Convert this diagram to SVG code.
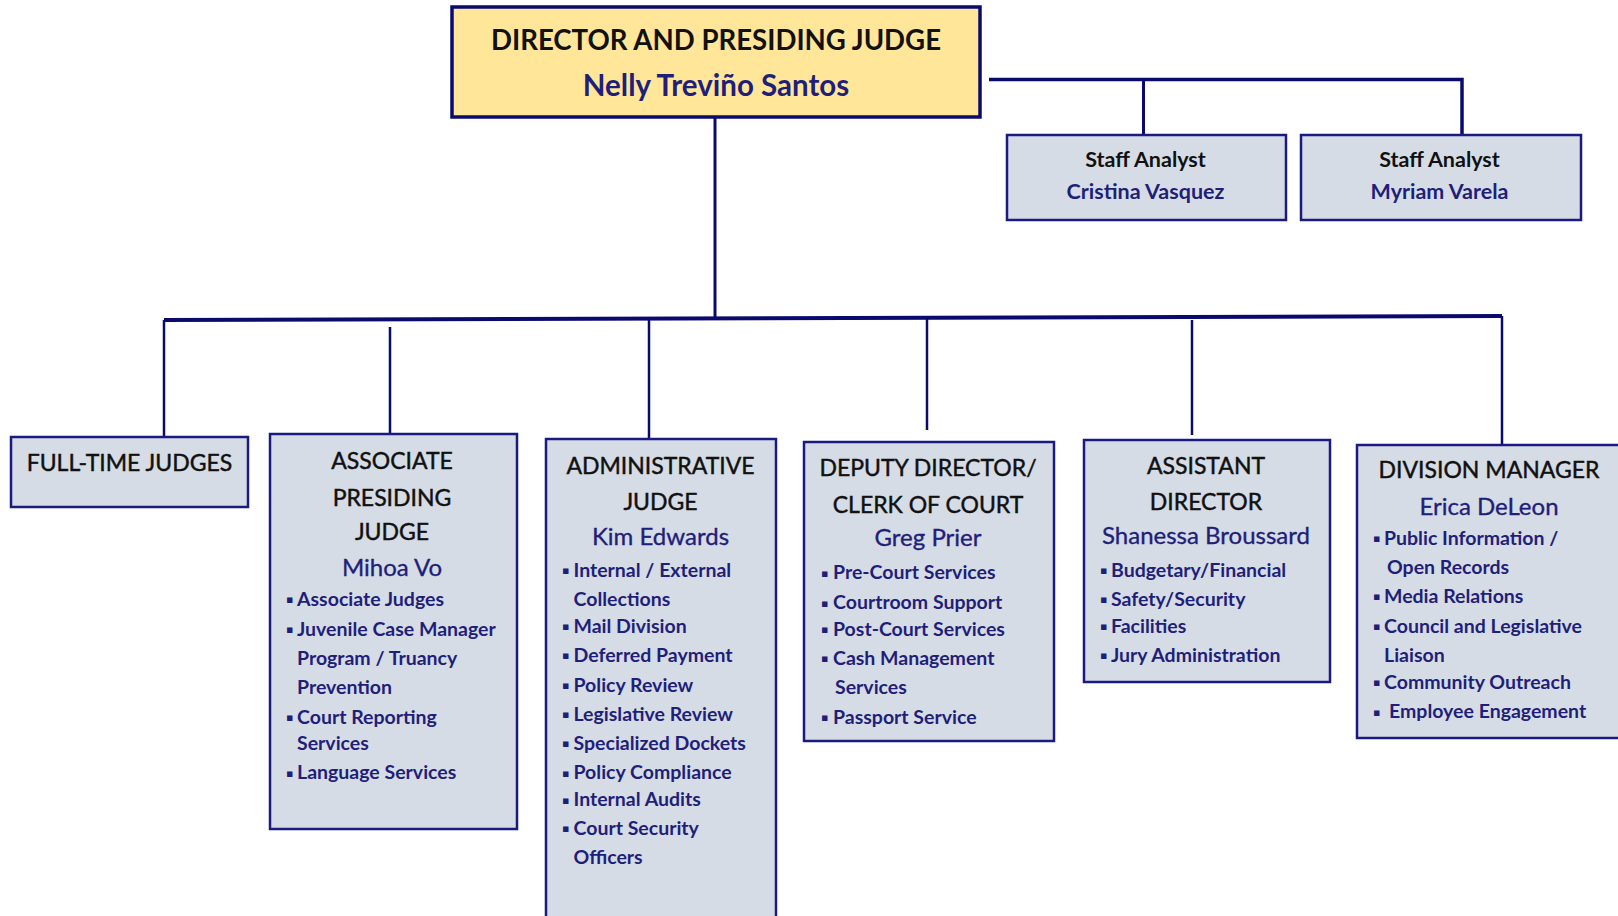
<svg xmlns="http://www.w3.org/2000/svg" width="1618" height="916" viewBox="0 0 1618 916">
<style>
.box{fill:#d6dce5;stroke:#1a1a80;stroke-width:2.5}
.top{fill:#ffe699;stroke:#0a0a6e;stroke-width:3.5}
.ln{stroke:#0a0a6e;fill:none}
.h{font-family:Lato,"Open Sans",sans-serif;font-size:23px;fill:#111;stroke:#111;stroke-width:0.45;text-anchor:middle}
.n{font-family:Lato,"Open Sans",sans-serif;font-size:24px;fill:#1f1f7a;stroke:#1f1f7a;stroke-width:0.35;text-anchor:middle}
.b{font-family:Lato,"Open Sans",sans-serif;font-size:19.5px;font-weight:bold;fill:#1f1f7a}
.d{font-family:"DejaVu Sans",sans-serif;font-size:11px;fill:#1f1f7a}
.th{font-family:Lato,"Open Sans",sans-serif;font-size:27.6px;font-weight:bold;fill:#111;text-anchor:middle}
.tn{font-family:Lato,"Open Sans",sans-serif;font-size:29.5px;font-weight:bold;fill:#1f1f7a;text-anchor:middle}
.sh{font-family:Lato,"Open Sans",sans-serif;font-size:21.5px;font-weight:bold;fill:#111;text-anchor:middle}
.sn{font-family:Lato,"Open Sans",sans-serif;font-size:21.5px;font-weight:bold;fill:#1f1f7a;text-anchor:middle}
</style>
<rect width="1618" height="916" fill="#fff"/>
<g id="connectors">
<polyline class="ln" stroke-width="3.5" points="989,79.5 1462,79.5 1462,135"/>
<line class="ln" stroke-width="3" x1="1143.5" y1="79.5" x2="1143.5" y2="135"/>
<line class="ln" stroke-width="3" x1="715" y1="117" x2="715" y2="318"/>
<line class="ln" stroke-width="4" x1="164" y1="320" x2="1502" y2="316"/>
<line class="ln" stroke-width="2.5" x1="164" y1="320" x2="164" y2="437"/>
<line class="ln" stroke-width="2.5" x1="390" y1="327" x2="390" y2="437"/>
<line class="ln" stroke-width="2.5" x1="649" y1="318" x2="649" y2="439"/>
<line class="ln" stroke-width="2.5" x1="927" y1="318" x2="927" y2="430"/>
<line class="ln" stroke-width="2.5" x1="1192" y1="320" x2="1192" y2="435"/>
<line class="ln" stroke-width="2.5" x1="1502" y1="316" x2="1502" y2="445"/>
</g>
<g id="director">
<rect class="top" x="452" y="7" width="528" height="110"/>
<text class="th" x="716" y="50">DIRECTOR AND PRESIDING JUDGE</text>
<text class="tn" x="716" y="96">Nelly Treviño Santos</text>
</g>
<g id="staff1">
<rect class="box" x="1007" y="135" width="279" height="85"/>
<text class="sh" x="1145.5" y="167">Staff Analyst</text>
<text class="sn" x="1145.5" y="199">Cristina Vasquez</text>
</g>
<g id="staff2">
<rect class="box" x="1301" y="135" width="280" height="85"/>
<text class="sh" x="1439.5" y="167">Staff Analyst</text>
<text class="sn" x="1439.5" y="199">Myriam Varela</text>
</g>
<g id="fulltime">
<rect class="box" x="11" y="437" width="237" height="70"/>
<text class="h" x="129.5" y="470.5">FULL-TIME JUDGES</text>
</g>
<g id="associate">
<rect class="box" x="270" y="434" width="247" height="395"/>
<text class="h" x="392" y="468.5">ASSOCIATE</text>
<text class="h" x="392" y="505.5">PRESIDING</text>
<text class="h" x="392" y="539.5">JUDGE</text>
<text class="n" x="392" y="575.5">Mihoa Vo</text>
<text class="d" x="286" y="603">▪</text><text class="b" x="297" y="605.5">Associate Judges</text>
<text class="d" x="286" y="633">▪</text><text class="b" x="297" y="635.5">Juvenile Case Manager</text>
<text class="b" x="297" y="664.5">Program / Truancy</text>
<text class="b" x="297" y="693.5">Prevention</text>
<text class="d" x="286" y="721">▪</text><text class="b" x="297" y="723.5">Court Reporting</text>
<text class="b" x="297" y="750">Services</text>
<text class="d" x="286" y="776.5">▪</text><text class="b" x="297" y="779">Language Services</text>
</g>
<g id="administrative">
<rect class="box" x="546" y="439" width="230" height="490"/>
<text class="h" x="660.5" y="473.5">ADMINISTRATIVE</text>
<text class="h" x="660.5" y="510">JUDGE</text>
<text class="n" x="660.5" y="545">Kim Edwards</text>
<text class="d" x="562" y="574">▪</text><text class="b" x="573.5" y="577">Internal / External</text>
<text class="b" x="573.5" y="605.5">Collections</text>
<text class="d" x="562" y="630">▪</text><text class="b" x="573.5" y="632.5">Mail Division</text>
<text class="d" x="562" y="659">▪</text><text class="b" x="573.5" y="661.5">Deferred Payment</text>
<text class="d" x="562" y="689">▪</text><text class="b" x="573.5" y="691.5">Policy Review</text>
<text class="d" x="562" y="718">▪</text><text class="b" x="573.5" y="720.5">Legislative Review</text>
<text class="d" x="562" y="747">▪</text><text class="b" x="573.5" y="749.5">Specialized Dockets</text>
<text class="d" x="562" y="776.5">▪</text><text class="b" x="573.5" y="779">Policy Compliance</text>
<text class="d" x="562" y="803.5">▪</text><text class="b" x="573.5" y="806">Internal Audits</text>
<text class="d" x="562" y="832">▪</text><text class="b" x="573.5" y="835">Court Security</text>
<text class="b" x="573.5" y="863.5">Officers</text>
</g>
<g id="deputy">
<rect class="box" x="804" y="442" width="250" height="299"/>
<text class="h" x="928" y="475.5">DEPUTY DIRECTOR/</text>
<text class="h" x="928" y="513">CLERK OF COURT</text>
<text class="n" x="928" y="546">Greg Prier</text>
<text class="d" x="821" y="576.5">▪</text><text class="b" x="833" y="579">Pre-Court Services</text>
<text class="d" x="821" y="606.5">▪</text><text class="b" x="833" y="609">Courtroom Support</text>
<text class="d" x="821" y="633">▪</text><text class="b" x="833" y="635.5">Post-Court Services</text>
<text class="d" x="821" y="662">▪</text><text class="b" x="833" y="664.5">Cash Management</text>
<text class="b" x="835" y="693.5">Services</text>
<text class="d" x="821" y="721">▪</text><text class="b" x="833" y="723.5">Passport Service</text>
</g>
<g id="assistant">
<rect class="box" x="1084" y="440" width="246" height="242"/>
<text class="h" x="1206" y="473.5">ASSISTANT</text>
<text class="h" x="1206" y="510">DIRECTOR</text>
<text class="n" x="1206" y="544">Shanessa Broussard</text>
<text class="d" x="1100" y="574">▪</text><text class="b" x="1111" y="577">Budgetary/Financial</text>
<text class="d" x="1100" y="603">▪</text><text class="b" x="1111" y="605.5">Safety/Security</text>
<text class="d" x="1100" y="630">▪</text><text class="b" x="1111" y="632.5">Facilities</text>
<text class="d" x="1100" y="659">▪</text><text class="b" x="1111" y="661.5">Jury Administration</text>
</g>
<g id="division">
<rect class="box" x="1357" y="445" width="270" height="293"/>
<text class="h" x="1489" y="478">DIVISION MANAGER</text>
<text class="n" x="1489" y="515">Erica DeLeon</text>
<text class="d" x="1373" y="542">▪</text><text class="b" x="1384" y="545">Public Information /</text>
<text class="b" x="1387" y="573.5">Open Records</text>
<text class="d" x="1373" y="600">▪</text><text class="b" x="1384" y="602.5">Media Relations</text>
<text class="d" x="1373" y="630">▪</text><text class="b" x="1384" y="632.5">Council and Legislative</text>
<text class="b" x="1384" y="661.5">Liaison</text>
<text class="d" x="1373" y="686">▪</text><text class="b" x="1384" y="688.5">Community Outreach</text>
<text class="d" x="1373" y="716">▪</text><text class="b" x="1389" y="718">Employee Engagement</text>
</g>
</svg>
